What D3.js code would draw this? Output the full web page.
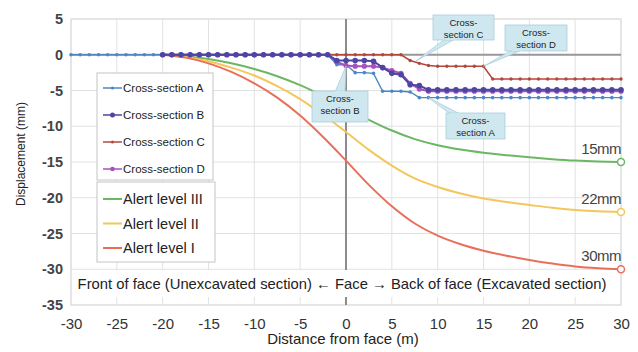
<!DOCTYPE html>
<html><head><meta charset="utf-8">
<script src="https://cdn.jsdelivr.net/npm/d3@7"></script>
<style>body{margin:0;background:#fff}svg{display:block}text{font-family:"Liberation Sans",Arial,sans-serif}</style>
</head><body><svg id="c" width="638" height="352"></svg>
<script>
// ---- data ----
const xTicks = [-30,-25,-20,-15,-10,-5,0,5,10,15,20,25,30];
const yTicks = [5,0,-5,-10,-15,-20,-25,-30,-35];
const alertX = [-20,-17.5,-15,-12.5,-10,-7.5,-5,-2.5,0,2.5,5,7.5,10,12.5,15,17.5,20,22.5,25,27.5,30];
const alertI   = [0,-0.4,-1.2,-2.4,-4.0,-6.0,-8.5,-11.5,-14.8,-18.2,-21.2,-23.6,-25.3,-26.5,-27.4,-28.1,-28.7,-29.2,-29.6,-29.85,-30];
const alertII  = [0,-0.3,-0.9,-1.8,-2.9,-4.4,-6.2,-8.4,-10.8,-13.3,-15.5,-17.3,-18.5,-19.4,-20.1,-20.6,-21.0,-21.4,-21.7,-21.9,-22];
const alertIII = [0,-0.2,-0.6,-1.2,-2.0,-3.0,-4.25,-5.75,-7.4,-9.1,-10.6,-11.8,-12.65,-13.25,-13.7,-14.05,-14.35,-14.6,-14.8,-14.93,-15];
const alertLabels = ["15mm","22mm","30mm"];
// cross-section measurements (1 m spacing)
const xA = d3.range(-30,31);
const valA = [0,0,0,0,0,0,0,0,0,0, 0,0,0,0,0,0,0,0,0,0, 0,0,0,0,0,0,0,0,0,-1.4, -1.4,-2.5,-2.5,-2.6,-5.1,-5.1,-5.1,-5.2,-6,-6, -6,-6,-6,-6,-6,-6,-6,-6,-6,-6, -6,-6,-6,-6,-6,-6,-6,-6,-6,-6,-6];
const xBCD = d3.range(-20,31);
const valB = [0,0,0,0,0,0,0,0,0,0, 0,0,0,0,0,0,0,0,0,-0.8, -0.8,-0.8,-0.8,-0.9,-1.8,-2.6,-2.8,-4.2,-4.3,-4.9, -4.9,-4.9,-4.9,-4.9,-4.9,-4.9,-4.9,-4.9,-4.9,-4.9, -4.9,-4.9,-4.9,-4.9,-4.9,-4.9,-4.9,-4.9,-4.9,-4.9,-4.9];
const valC = [0,0,0,0,0,0,0,0,0,0, 0,0,0,0,0,0,0,0,0,0, 0,0,0,0,0,0,0,-0.8,-1.2,-1.5, -1.6,-1.6,-1.6,-1.6,-1.6,-1.6,-3.4,-3.4,-3.4,-3.4, -3.4,-3.4,-3.4,-3.4,-3.4,-3.4,-3.4,-3.4,-3.4,-3.4,-3.4];
const valD = [0,0,0,0,0,0,0,0,0,0, 0,0,0,0,0,0,0,0,0,-1.0, -1.5,-1.6,-1.6,-1.6,-1.8,-2.2,-2.6,-4.0,-4.8,-5.1, -5.1,-5.1,-5.1,-5.1,-5.1,-5.1,-5.1,-5.1,-5.1,-5.1, -5.1,-5.1,-5.1,-5.1,-5.1,-5.1,-5.1,-5.1,-5.1,-5.1,-5.1];
const seriesNames = ["Cross-section A","Cross-section B","Cross-section C","Cross-section D"];
const alertNames = ["Alert level III","Alert level II","Alert level I"];

// ---- setup ----
const svg = d3.select("#c");
const x = d3.scaleLinear().domain([-30,30]).range([71,621]);
const y = d3.scaleLinear().domain([5,-35]).range([19,305]);

// grid
const g = svg.append("g");
g.selectAll(".vg").data(xTicks).join("line").attr("x1",d=>x(d)).attr("x2",d=>x(d)).attr("y1",y(5)).attr("y2",y(-35)).attr("stroke","#e2e2e2").attr("stroke-width",1);
g.selectAll(".hg").data(yTicks).join("line").attr("x1",x(-30)).attr("x2",x(30)).attr("y1",d=>y(d)).attr("y2",d=>y(d)).attr("stroke","#e2e2e2").attr("stroke-width",1);
svg.append("rect").attr("x",x(-30)).attr("y",y(5)).attr("width",x(30)-x(-30)).attr("height",y(-35)-y(5)).attr("fill","none").attr("stroke","#dadada");
// zero lines
svg.append("line").attr("x1",x(-30)).attr("x2",x(30)).attr("y1",y(0)).attr("y2",y(0)).attr("stroke","#999").attr("stroke-width",2);
svg.append("line").attr("x1",x(0)).attr("x2",x(0)).attr("y1",y(5)).attr("y2",y(-35)).attr("stroke","#8c8c8c").attr("stroke-width",2);

// axes
const fmt = d => String(d);
const xAxis = d3.axisBottom(x).tickValues(xTicks).tickFormat(fmt).tickSize(0).tickPadding(0);
const gx = svg.append("g").attr("transform",`translate(0,${y(-35)+13})`).call(xAxis);
gx.select(".domain").remove();
gx.selectAll("text").attr("font-size",15).attr("fill","#333").attr("dy","0.71em").attr("y",0);
const yAxis = d3.axisLeft(y).tickValues(yTicks).tickFormat(fmt).tickSize(0).tickPadding(0);
const gy = svg.append("g").attr("transform",`translate(${x(-30)-8},0)`).call(yAxis);
gy.select(".domain").remove();
gy.selectAll("text").attr("font-size",14.5).attr("font-weight","bold").attr("fill","#444");
svg.append("text").attr("x",343).attr("y",344).attr("text-anchor","middle").attr("font-size",15).attr("fill","#222").text("Distance from face (m)");
svg.append("text").attr("transform","translate(25,154) rotate(-90)").attr("text-anchor","middle").attr("font-size",12).attr("fill","#222").text("Displacement (mm)");

// alert curves
const alertSets = [[alertIII,"#6cb764"],[alertII,"#f3c75b"],[alertI,"#e8705b"]];
const curveLine = d3.line().x(d=>x(d[0])).y(d=>y(d[1])).curve(d3.curveCatmullRom);
alertSets.forEach(([vals,col])=>{
  const pts = alertX.map((v,i)=>[v,vals[i]]);
  svg.append("path").attr("d",curveLine(pts)).attr("fill","none").attr("stroke",col).attr("stroke-width",2);
  svg.append("circle").attr("cx",x(30)).attr("cy",y(vals[vals.length-1])).attr("r",3.5).attr("fill","#fff").attr("stroke",col).attr("stroke-width",1.5);
});
alertLabels.forEach((t,i)=>{
  const vals=[alertIII,alertII,alertI][i];
  svg.append("text").attr("x",621).attr("y",y(vals[vals.length-1])-8).attr("text-anchor","end").attr("font-size",15).attr("letter-spacing",-0.5).attr("fill","#444").text(t);
});

// cross-section series (draw order: A, C, D, B)
const sLine = d3.line().x(d=>x(d[0])).y(d=>y(d[1]));
const series = [
  [xA,valA,"#4d87c7",1.4,1.8],
  [xBCD,valB,"#4e45a3",2,2.8],
  [xBCD,valC,"#b4473c",1.5,1.7],
  [xBCD,valD,"#a652bd",2,2.6]
];
[0,2,3,1].forEach(k=>{
  const [xs,vs,col,w,r] = series[k];
  const pts = xs.map((v,i)=>[v,vs[i]]);
  svg.append("path").attr("d",sLine(pts)).attr("fill","none").attr("stroke",col).attr("stroke-width",w);
  svg.append("g").selectAll("circle").data(pts).join("circle").attr("cx",d=>x(d[0])).attr("cy",d=>y(d[1])).attr("r",r).attr("fill",col);
});

// callouts
function callout(bx,by,bw,bh,lines,tip,base){
  svg.append("path").attr("d",`M${base[0][0]},${base[0][1]}L${tip[0]},${tip[1]}L${base[1][0]},${base[1][1]}Z`).attr("fill","#cfe7ee").attr("stroke","#a9d0dc").attr("stroke-width",0.8);
  svg.append("rect").attr("x",bx).attr("y",by).attr("width",bw).attr("height",bh).attr("fill","#cfe7ee").attr("stroke","#a9d0dc").attr("stroke-width",0.8);
  svg.append("path").attr("d",`M${base[0][0]},${base[0][1]}L${base[1][0]},${base[1][1]}`).attr("stroke","#cfe7ee").attr("stroke-width",2);
  lines.forEach((t,i)=>svg.append("text").attr("x",bx+bw/2).attr("y",by+11+i*12).attr("text-anchor","middle").attr("font-size",9.5).attr("fill","#222").text(t));
}
callout(433,15,61,25,["Cross-","section C"],[x(7.6),y(-0.9)],[[445,39],[455,39]]);
callout(505,25,62,26,["Cross-","section D"],[x(15),y(-1.6)],[[512,50],[522,50]]);
callout(312,91,56,31,["Cross-","section B"],[x(0),y(-1.6)],[[335,92],[345,92]]);
callout(446,113,59,26,["Cross-","section A"],[x(9),y(-6)],[[450,114],[460,114]]);

// legend 1
const lg1 = svg.append("g");
lg1.append("rect").attr("x",97).attr("y",73).attr("width",116).attr("height",107).attr("fill","#fff").attr("stroke","#c4c4c4");
seriesNames.forEach((n,i)=>{
  const yy = 88+i*27;
  const s = series[i];
  lg1.append("line").attr("x1",103).attr("x2",122).attr("y1",yy).attr("y2",yy).attr("stroke",s[2]).attr("stroke-width",1.5);
  lg1.append("circle").attr("cx",112.5).attr("cy",yy).attr("r",s[4]*0.9).attr("fill",s[2]);
  lg1.append("text").attr("x",123).attr("y",yy+4).attr("font-size",11.5).attr("fill","#222").text(n);
});
// legend 2
const lg2 = svg.append("g");
lg2.append("rect").attr("x",97).attr("y",182).attr("width",118).attr("height",80).attr("fill","#fff").attr("stroke","#c4c4c4");
alertNames.forEach((n,i)=>{
  const yy = 199+i*24.5;
  lg2.append("line").attr("x1",103).attr("x2",122).attr("y1",yy).attr("y2",yy).attr("stroke",alertSets[i][1]).attr("stroke-width",2);
  lg2.append("text").attr("x",123).attr("y",yy+5).attr("font-size",14.5).attr("fill","#222").text(n);
});

// bottom annotation
svg.append("rect").attr("x",74).attr("y",270).attr("width",542).attr("height",27).attr("fill","#fff");
svg.append("text").attr("x",342).attr("y",289).attr("text-anchor","middle").attr("font-size",14.8).attr("fill","#222").text("Front of face (Unexcavated section) \u2190 Face \u2192 Back of face (Excavated section)");
</script></body></html>
